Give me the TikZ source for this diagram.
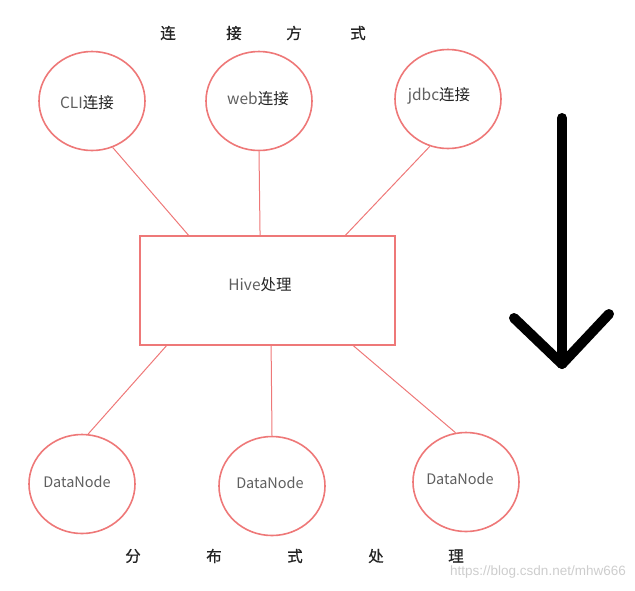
\documentclass[tikz,border=0pt]{standalone}
\usepackage{fontspec}
\setmainfont{Noto Sans CJK SC}
\newfontfamily\capfont[FakeBold=0.7]{Noto Sans CJK SC}
\newfontfamily\wmfont{Liberation Sans}
\usetikzlibrary{shapes.geometric,calc}
\definecolor{pinkred}{RGB}{238,120,120}
\definecolor{latgray}{RGB}{95,95,95}
\definecolor{cjkdark}{RGB}{35,35,35}
\definecolor{wmgray}{RGB}{205,205,205}
\begin{document}
\begin{tikzpicture}[x=1pt,y=-1pt,
  circ/.style={ellipse,draw=pinkred,line width=1.6pt,minimum width=106pt,minimum height=99pt,inner sep=0pt},
  procbox/.style={rectangle,draw=pinkred,line width=1.6pt,minimum width=255pt,minimum height=109pt,inner sep=0pt},
  conn/.style={draw=pinkred,line width=1pt},
  lbl/.style={inner sep=0pt,font=\fontsize{15.5}{17}\selectfont},
  dnlbl/.style={inner sep=0pt,font=\fontsize{14.5}{16}\selectfont,text=latgray},
  captext/.style={font=\capfont\fontsize{15.5}{17}\selectfont,text=cjkdark,inner sep=0pt},
  bigarrow/.style={line width=10pt,line cap=round,line join=round,black}
]
\useasboundingbox (0,0) rectangle (635,590);

% top caption
\node[captext] (t1) at (168,33) {连};
\node[captext] (t2) at (234,33) {接};
\node[captext] (t3) at (294,33) {方};
\node[captext] (t4) at (358,33) {式};

% connection circles
\node[circ] (cli) at (92,101) {};
\node[circ] (web) at (259,101) {};
\node[circ] (jdbc) at (448,99) {};
\node[lbl] (clit) at (87,103) {\textcolor{latgray}{CLI}\textcolor{cjkdark}{连接}};
\node[lbl] (webt) at (258,99) {\textcolor{latgray}{web}\textcolor{cjkdark}{连接}};
\node[lbl] (jdbct) at (439,96) {\textcolor{latgray}{jdbc}\textcolor{cjkdark}{连接}};

% hive box
\node[procbox] (hive) at (267.5,290.5) {};
\node[lbl] (hivet) at (260,285) {\textcolor{latgray}{Hive}\textcolor{cjkdark}{处理}};

% datanodes
\node[circ] (dn1) at (82,484) {};
\node[circ] (dn2) at (272,486) {};
\node[circ] (dn3) at (466,482) {};
\node[dnlbl] (dn1t) at (77,482) {DataNode};
\node[dnlbl] (dn2t) at (270,483) {DataNode};
\node[dnlbl] (dn3t) at (460,479) {DataNode};

% connectors
\draw[conn] (cli.-66) -- ($(hive.north west)!0.192!(hive.north east)$);
\draw[conn] (web.south) -- ($(hive.north west)!0.471!(hive.north east)$);
\draw[conn] (jdbc.-111) -- ($(hive.north west)!0.804!(hive.north east)$);
\draw[conn] ($(hive.south west)!0.106!(hive.south east)$) -- (dn1.83);
\draw[conn] ($(hive.south west)!0.514!(hive.south east)$) -- (dn2.north);
\draw[conn] ($(hive.south west)!0.835!(hive.south east)$) -- (dn3.102);

% bottom caption
\node[captext] (b1) at (133,556) {分};
\node[captext] (b2) at (214,556) {布};
\node[captext] (b3) at (295,556) {式};
\node[captext] (b4) at (376,556) {处};
\node[captext] (b5) at (456,556) {理};

% big arrow
\coordinate (atop) at (562,118);
\coordinate (atip) at (562,364);
\coordinate (aleft) at (514,318);
\coordinate (aright) at (609,314);
\draw[bigarrow] (atop) -- (atip);
\draw[bigarrow] (aleft) -- (atip) -- (aright);

% watermark
\node[inner sep=0pt,font=\wmfont\fontsize{13.5}{15}\selectfont,text=wmgray,anchor=east] (wm) at (626,572) {https://blog.csdn.net/mhw666};
\end{tikzpicture}
\end{document}
